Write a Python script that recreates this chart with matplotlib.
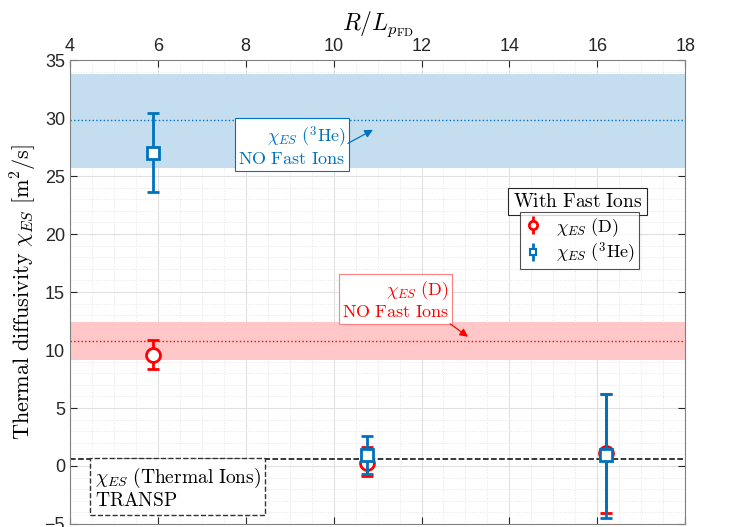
import matplotlib
matplotlib.use("Agg")
import matplotlib.pyplot as plt
from matplotlib.ticker import MultipleLocator

plt.rcParams['mathtext.fontset'] = 'cm'
plt.rcParams['font.family'] = ['Liberation Sans', 'DejaVu Sans']

# Data
x_pts = [5.9, 10.75, 16.2]
d_val = [9.6, 0.3, 1.1]
d_lo = [8.35, -0.9, -4.05]
d_hi = [10.9, 1.6, 6.2]
he_val = [27.0, 0.95, 0.95]
he_lo = [23.6, -0.7, -4.45]
he_hi = [30.4, 2.6, 6.2]

he_band = [25.7, 29.8, 33.8]   # low, centre, high (no fast ions)
d_band = [9.1, 10.8, 12.4]
transp_level = 0.6

xticks = [4, 6, 8, 10, 12, 14, 16, 18]
yticks = [-5, 0, 5, 10, 15, 20, 25, 30, 35]

blue = (0, 0.447, 0.741)
red = (1, 0, 0)

fig = plt.figure(figsize=(7.36, 5.27), dpi=100)
ax = fig.add_axes([0.095, 0.0057, 0.836, 0.8804])
ax.set_xlim(4, 18)
ax.set_ylim(-5, 35)

ax.axhspan(he_band[0], he_band[2], color=(0.77, 0.87, 0.94), zorder=1, lw=0)
ax.axhline(he_band[1], color=blue, ls=':', lw=1.0, zorder=2)
ax.axhspan(d_band[0], d_band[2], color=(1.0, 0.78, 0.78), zorder=1, lw=0)
ax.axhline(d_band[1], color=red, ls=':', lw=1.0, zorder=2)
ax.axhline(transp_level, color='black', ls='--', lw=1.1, zorder=2)

d_err = [[v - l for v, l in zip(d_val, d_lo)], [h - v for v, h in zip(d_val, d_hi)]]
he_err = [[v - l for v, l in zip(he_val, he_lo)], [h - v for v, h in zip(he_val, he_hi)]]
ax.errorbar(x_pts, d_val, yerr=d_err, fmt='o', color=red, mfc='white', mec=red,
            ms=10, mew=2, elinewidth=2, capsize=4, capthick=2, zorder=4)
ax.errorbar(x_pts, he_val, yerr=he_err, fmt='s', color=blue, mfc='white', mec=blue,
            ms=8, mew=2, elinewidth=2, capsize=4, capthick=2, zorder=5)

ax.set_xticks(xticks)
ax.set_yticks(yticks)
ax.xaxis.set_minor_locator(MultipleLocator(0.5))
ax.yaxis.set_minor_locator(MultipleLocator(1))
ax.xaxis.tick_top()
ax.xaxis.set_label_position('top')
ax.tick_params(which='both', direction='in', top=True, right=True, bottom=True, left=True,
               labelsize=13, colors=(0.15, 0.15, 0.15), length=5)
ax.tick_params(which='minor', length=0)
ax.grid(which='major', color=(0.88, 0.88, 0.88), lw=0.8, zorder=0)
ax.grid(which='minor', color=(0.9, 0.9, 0.9), lw=0.7, ls=':', zorder=0)
ax.set_axisbelow(True)
for s in ax.spines.values():
    s.set_color((0.5, 0.5, 0.5))

ax.set_xlabel(r'$R/L_{p_{\mathrm{FD}}}$', fontsize=17, labelpad=6)
ax.set_ylabel(r'$\mathrm{Thermal\ diffusivity}\ \chi_{ES}\ [\mathrm{m}^2/\mathrm{s}]$',
              fontsize=16, labelpad=4)

# annotations
ax.text(9.05, 27.55, r'$\chi_{ES}\ (^3\mathrm{He})$' + '\n' + r'$\mathrm{NO\ Fast\ Ions}$',
        color=blue, fontsize=13, ha='center', va='center', multialignment='right',
        linespacing=1.1,
        bbox=dict(boxstyle='square,pad=0.18', fc='white', ec=blue, lw=0.8), zorder=6)
ax.annotate('', xy=(10.95, 29.1), xytext=(10.27, 27.7),
            arrowprops=dict(arrowstyle='-|>', color=blue, lw=0.9, mutation_scale=12), zorder=6)

ax.text(11.41, 14.3, r'$\chi_{ES}\ (\mathrm{D})$' + '\n' + r'$\mathrm{NO\ Fast\ Ions}$',
        color=red, fontsize=13, ha='center', va='center', multialignment='right',
        linespacing=1.1,
        bbox=dict(boxstyle='square,pad=0.18', fc='white', ec=(1, 0.5, 0.5), lw=0.8), zorder=6)
ax.annotate('', xy=(13.11, 11.0), xytext=(12.6, 12.4),
            arrowprops=dict(arrowstyle='-|>', color=red, lw=0.9, mutation_scale=12), zorder=6)

ax.text(6.45, -1.9, r'$\chi_{ES}\ (\mathrm{Thermal\ Ions})$' + '\n' + r'$\mathrm{TRANSP}$',
        color='black', fontsize=14, ha='center', va='center', multialignment='left',
        linespacing=1.1,
        bbox=dict(boxstyle='square,pad=0.25', fc='white', ec=(0.2, 0.2, 0.2), lw=1.0, ls='--'),
        zorder=6)

# legend
ax.text(0.825, 0.695, r'$\mathrm{With\ Fast\ Ions}$', transform=ax.transAxes, fontsize=14,
        ha='center', va='center',
        bbox=dict(boxstyle='square,pad=0.25', fc='white', ec=(0.15, 0.15, 0.15), lw=0.8), zorder=7)
h1 = ax.errorbar([], [], yerr=[], fmt='o', color=red, mfc='white', mec=red, ms=6, mew=2,
                 elinewidth=2, capsize=3, capthick=2)
h2 = ax.errorbar([], [], yerr=[], fmt='s', color=blue, mfc='white', mec=blue, ms=4, mew=1.5,
                 elinewidth=2, capsize=3, capthick=2)
leg = ax.legend([h1, h2], [r'$\chi_{ES}\ (\mathrm{D})$', r'$\chi_{ES}\ (^3\mathrm{He})$'],
                loc='upper left', bbox_to_anchor=(0.732, 0.672), fontsize=13,
                frameon=True, fancybox=False, edgecolor=(0.15, 0.15, 0.15),
                handlelength=1.0, handletextpad=0.8, borderpad=0.2, labelspacing=0.1,
                borderaxespad=0)
leg.get_frame().set_linewidth(0.8)
leg.set_zorder(7)

fig.savefig('out.png', dpi=100)
